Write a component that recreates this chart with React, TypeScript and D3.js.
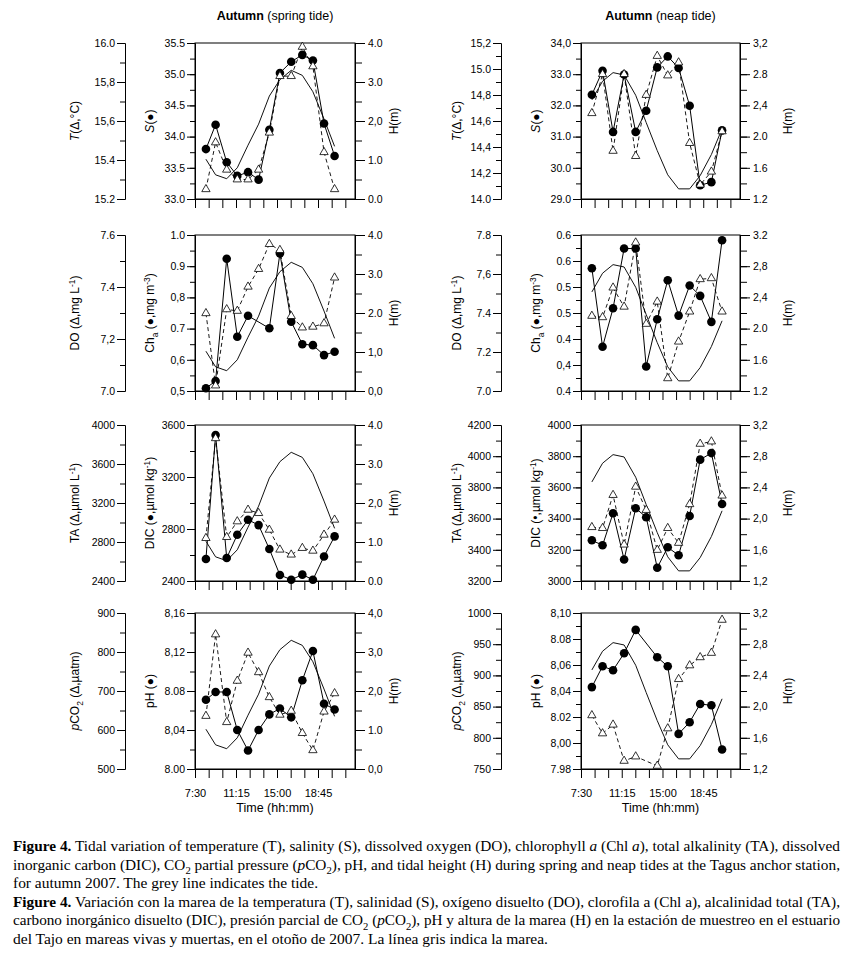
import React, { useEffect, useRef } from "react";
import * as d3 from "d3";

type Val = number | null;
type Part = [string, string?];

// sampling times, minutes after midnight
const springTimes = [510, 563, 624, 682, 741, 799, 858, 916, 978, 1039, 1097, 1158, 1216];
const neapTimes = [510, 569, 627, 688, 752, 810, 871, 929, 989, 1050, 1108, 1170, 1229];

// tidal height H (m)
const springTide = [1.02, 0.62, 0.52, 0.8, 1.38, 1.92, 2.64, 3.06, 3.3, 3.17, 2.75, 2.05, 1.35];
const neapTide = [2.47, 2.71, 2.82, 2.79, 2.53, 2.18, 1.82, 1.51, 1.33, 1.33, 1.5, 1.77, 2.1];

// spring tide series
const springS = [33.8, 34.19, 33.59, 33.37, 33.43, 33.31, 34.11, 35.02, 35.2, 35.31, 35.22, 34.21, 33.69];
const springT = [15.25, 15.49, 15.35, 15.3, 15.3, 15.35, 15.54, 15.83, 15.83, 15.98, 15.88, 15.44, 15.25];
const springChl: Val[] = [0.509, 0.532, 0.924, 0.674, 0.741, null, 0.701, 0.941, 0.722, 0.65, 0.647, 0.615, 0.626];
const springDO = [7.299, 7.021, 7.314, 7.308, 7.401, 7.469, 7.565, 7.542, 7.288, 7.244, 7.247, 7.26, 7.436];
const springDIC = [2569, 3523, 2577, 2756, 2871, 2830, 2646, 2446, 2410, 2449, 2410, 2589, 2743];
const springTA = [2840, 3864, 2850, 3011, 3130, 3096, 2925, 2721, 2670, 2738, 2710, 2874, 3028];
const springPH = [8.071, 8.079, 8.079, 8.04, 8.019, 8.04, 8.056, 8.062, 8.053, 8.091, 8.121, 8.067, 8.061];
const springPCO2 = [636, 845, 620, 726, 798, 748, 684, 639, 649, 592, 548, 647, 694];

// neap tide series
const neapS = [32.34, 33.11, 31.15, 32.99, 31.15, 31.83, 33.22, 33.57, 33.2, 31.99, 29.44, 29.54, 31.2];
const neapT = [14.66, 14.96, 14.37, 14.96, 14.33, 14.8, 15.1, 14.95, 15.05, 14.43, 14.11, 14.21, 14.52];
const neapChl = [0.636, 0.485, 0.559, 0.674, 0.674, 0.447, 0.538, 0.613, 0.545, 0.603, 0.583, 0.533, 0.69];
const neapDO = [7.385, 7.378, 7.53, 7.432, 7.761, 7.344, 7.458, 7.065, 7.253, 7.407, 7.573, 7.578, 7.407];
const neapDIC = [3261, 3229, 3434, 3138, 3466, 3409, 3085, 3216, 3165, 3417, 3778, 3820, 3494];
const neapTA = [3545, 3539, 3751, 3433, 3804, 3655, 3399, 3539, 3444, 3692, 4079, 4094, 3747];
const neapPH: Val[] = [8.043, 8.059, 8.056, 8.069, 8.087, null, 8.066, 8.059, 8.007, 8.016, 8.03, 8.029, 7.995];
const neapPCO2: Val[] = [836, 807, 821, 763, 770, null, 755, 815, 894, 916, 929, 936, 989];

// tick labels, bottom to top (as printed)
const springTLabels = ["15.2", "15.4", "15,6", "15,8", "16.0"];
const springSLabels = ["33.0", "33.5", "34.0", "34.5", "35.0", "35.5"];
const springH1Labels = ["0.0", "1.0", "2,0", "3.0", "4.0"];
const springDOLabels = ["7.0", "7,2", "7.4", "7.6"];
const springChlLabels = ["0,5", "0,6", "0.7", "0,8", "0.9", "1.0"];
const springH2Labels = ["0,0", "1,0", "2.0", "3.0", "4.0"];
const springTALabels = ["2400", "2800", "3200", "3600", "4000"];
const springDICLabels = ["2400", "2800", "3200", "3600"];
const springH3Labels = ["0.0", "1.0", "2,0", "3.0", "4.0"];
const springPCO2Labels = ["500", "600", "700", "800", "900"];
const springPHLabels = ["8.00", "8,04", "8.08", "8,12", "8,16"];
const springH4Labels = ["0,0", "1.0", "2,0", "3,0", "4,0"];

const neapTLabels = ["14.0", "14,2", "14,4", "14,6", "14,8", "15.0", "15,2"];
const neapSLabels = ["29.0", "30.0", "31.0", "32.0", "33.0", "34,0"];
const neapH1Labels = ["1.2", "1.6", "2.0", "2,4", "2.8", "3,2"];
const neapDOLabels = ["7.0", "7.2", "7.4", "7,6", "7.8"];
const neapChlLabels = ["0.4", "0,4", "0.4", "0.5", "0.5", "0.6", "0.6"];
const neapH2Labels = ["1.2", "1.6", "2.0", "2,4", "2,8", "3.2"];
const neapTALabels = ["3200", "3400", "3600", "3800", "4000", "4200"];
const neapDICLabels = ["3000", "3200", "3400", "3600", "3800", "4000"];
const neapH3Labels = ["1,2", "1,6", "2,0", "2,4", "2,8", "3,2"];
const neapPCO2Labels = ["750", "800", "850", "900", "950", "1000"];
const neapPHLabels = ["7.98", "8,00", "8.02", "8,04", "8,06", "8.08", "8,10"];
const neapH4Labels = ["1,2", "1,6", "2,0", "2,4", "2,8", "3,2"];

const timeLabelsAt = [450, 675, 900, 1125];

const captionLines: { parts: Part[]; width: number }[] = [
  {
    width: 827,
    parts: [["Figure 4.", "b"], [" Tidal variation of temperature (T), salinity (S), dissolved oxygen (DO), chlorophyll "], ["a", "i"], [" (Chl "], ["a", "i"], ["), total alkalinity (TA), dissolved"]],
  },
  {
    width: 827,
    parts: [["inorganic carbon (DIC), CO"], ["2", "sub"], [" partial pressure ("], ["p", "i"], ["CO"], ["2", "sub"], ["), pH, and tidal height (H) during spring and neap tides at the Tagus anchor station,"]],
  },
  { width: 305, parts: [["for autumn 2007. The grey line indicates the tide."]] },
  {
    width: 827,
    parts: [["Figure 4.", "b"], [" Variación con la marea de la temperatura (T), salinidad (S), oxígeno disuelto (DO), clorofila a (Chl a), alcalinidad total (TA),"]],
  },
  {
    width: 827,
    parts: [["carbono inorgánico disuelto (DIC), presión parcial de CO"], ["2", "sub"], [" ("], ["p", "i"], ["CO"], ["2", "sub"], ["), pH y altura de la marea (H) en la estación de muestreo en el estuario"]],
  },
  { width: 535, parts: [["del Tajo en mareas vivas y muertas, en el otoño de 2007. La línea gris indica la marea."]] },
];

interface AxisSpec {
  domain: [number, number];
  minor: number;
  labels: string[];
}

interface PanelSpec {
  outer: AxisSpec;
  inner: AxisSpec;
  tide: AxisSpec;
  triangles: Val[];
  circles: Val[];
  outerLabel: Part[];
  innerLabel: Part[];
}

const SANS = "'Liberation Sans', Arial, Helvetica, sans-serif";
const SERIF = "'Liberation Serif', 'Times New Roman', serif";

const springPanels: PanelSpec[] = [
  {
    outer: { domain: [15.2, 16.0], minor: 0.1, labels: springTLabels },
    inner: { domain: [33.0, 35.5], minor: 0.25, labels: springSLabels },
    tide: { domain: [0, 4], minor: 0.5, labels: springH1Labels },
    triangles: springT,
    circles: springS,
    outerLabel: [["T", "i"], ["(Δ,°C)"]],
    innerLabel: [["S", "i"], ["(●)"]],
  },
  {
    outer: { domain: [7.0, 7.6], minor: 0.1, labels: springDOLabels },
    inner: { domain: [0.5, 1.0], minor: 0.05, labels: springChlLabels },
    tide: { domain: [0, 4], minor: 0.5, labels: springH2Labels },
    triangles: springDO,
    circles: springChl,
    outerLabel: [["DO (Δ,mg L"], ["-1", "sup"], [")"]],
    innerLabel: [["Ch"], ["a", "sub"], [" (●,mg m"], ["-3", "sup"], [")"]],
  },
  {
    outer: { domain: [2400, 4000], minor: 200, labels: springTALabels },
    inner: { domain: [2400, 3600], minor: 200, labels: springDICLabels },
    tide: { domain: [0, 4], minor: 0.5, labels: springH3Labels },
    triangles: springTA,
    circles: springDIC,
    outerLabel: [["TA (Δ,µmol L"], ["-1", "sup"], [")"]],
    innerLabel: [["DIC (●,µmol kg"], ["-1", "sup"], [")"]],
  },
  {
    outer: { domain: [500, 900], minor: 50, labels: springPCO2Labels },
    inner: { domain: [8.0, 8.16], minor: 0.02, labels: springPHLabels },
    tide: { domain: [0, 4], minor: 0.5, labels: springH4Labels },
    triangles: springPCO2,
    circles: springPH,
    outerLabel: [["p", "i"], ["CO"], ["2", "sub"], [" (Δ,µatm)"]],
    innerLabel: [["pH (●)"]],
  },
];

const neapPanels: PanelSpec[] = [
  {
    outer: { domain: [14.0, 15.2], minor: 0.1, labels: neapTLabels },
    inner: { domain: [29.0, 34.0], minor: 0.5, labels: neapSLabels },
    tide: { domain: [1.2, 3.2], minor: 0.2, labels: neapH1Labels },
    triangles: neapT,
    circles: neapS,
    outerLabel: [["T", "i"], ["(Δ,°C)"]],
    innerLabel: [["S", "i"], ["(●)"]],
  },
  {
    outer: { domain: [7.0, 7.8], minor: 0.1, labels: neapDOLabels },
    inner: { domain: [0.4, 0.7], minor: 0.025, labels: neapChlLabels },
    tide: { domain: [1.2, 3.2], minor: 0.2, labels: neapH2Labels },
    triangles: neapDO,
    circles: neapChl,
    outerLabel: [["DO (Δ,mg L"], ["-1", "sup"], [")"]],
    innerLabel: [["Ch"], ["a", "sub"], [" (●,mg m"], ["-3", "sup"], [")"]],
  },
  {
    outer: { domain: [3200, 4200], minor: 100, labels: neapTALabels },
    inner: { domain: [3000, 4000], minor: 100, labels: neapDICLabels },
    tide: { domain: [1.2, 3.2], minor: 0.2, labels: neapH3Labels },
    triangles: neapTA,
    circles: neapDIC,
    outerLabel: [["TA (Δ,µmol L"], ["-1", "sup"], [")"]],
    innerLabel: [["DIC (•,µmol kg"], ["-1", "sup"], [")"]],
  },
  {
    outer: { domain: [750, 1000], minor: 25, labels: neapPCO2Labels },
    inner: { domain: [7.98, 8.1], minor: 0.01, labels: neapPHLabels },
    tide: { domain: [1.2, 3.2], minor: 0.2, labels: neapH4Labels },
    triangles: neapPCO2,
    circles: neapPH,
    outerLabel: [["p", "i"], ["CO"], ["2", "sub"], [" (Δ,µatm)"]],
    innerLabel: [["pH (●)"]],
  },
];

const fmtTime = (m: number) => `${Math.floor(m / 60)}:${String(m % 60).padStart(2, "0")}`;

function rich(text: any, parts: Part[], size: number) {
  let shift = 0;
  parts.forEach(([s, st]) => {
    const ts = text.append("tspan").text(s);
    let target = 0;
    if (st === "sub") target = size * 0.3;
    if (st === "sup") target = -size * 0.38;
    if (target !== shift) {
      ts.attr("dy", target - shift);
      shift = target;
    }
    if (st === "sub" || st === "sup") ts.attr("font-size", size * 0.7);
    if (st === "i") ts.attr("font-style", "italic");
    if (st === "b") ts.attr("font-weight", "bold");
  });
}

function majorTicks(a: AxisSpec) {
  const n = a.labels.length - 1;
  return d3.range(n + 1).map((i) => a.domain[0] + ((a.domain[1] - a.domain[0]) * i) / n);
}

function minorTicks(a: AxisSpec) {
  const n = Math.round((a.domain[1] - a.domain[0]) / a.minor);
  return d3.range(n + 1).map((i) => a.domain[0] + a.minor * i);
}

function styleAxis(g: any, size = 10.5) {
  g.attr("font-family", SANS).attr("font-size", size);
  g.selectAll("line").attr("stroke", "#000").attr("stroke-width", 1);
  g.selectAll("path").attr("stroke", "#000").attr("stroke-width", 1);
  g.selectAll("text").attr("fill", "#000");
}

const App: React.FC = () => {
  const svgRef = useRef<SVGSVGElement>(null);

  useEffect(() => {
    if (!svgRef.current) return;
    const svg = d3.select(svgRef.current);
    svg.selectAll("*").remove();

    const rowTops = [43, 235, 425, 613];
    const panelH = 156;
    const columns = [
      { outerX: 125, x0: 195, x1: 355, outerLab: 75, innerLab: 150, hLab: 394, panels: springPanels, times: springTimes, tide: springTide, title: "(spring tide)" },
      { outerX: 501, x0: 581, x1: 740, outerLab: 457, innerLab: 536, hLab: 788, panels: neapPanels, times: neapTimes, tide: neapTide, title: "(neap tide)" },
    ];

    columns.forEach((col) => {
      const x = d3.scaleLinear().domain([450, 1328]).range([col.x0, col.x1]);
      const cx = (col.x0 + col.x1) / 2;

      // title
      const title = svg
        .append("text")
        .attr("x", cx)
        .attr("y", 20)
        .attr("text-anchor", "middle")
        .attr("font-family", SANS)
        .attr("font-size", 12.5);
      title.append("tspan").attr("font-weight", "bold").text("Autumn");
      title.append("tspan").text(" " + col.title);

      col.panels.forEach((p, r) => {
        const top = rowTops[r];
        const bot = top + panelH;
        const isLast = r === col.panels.length - 1;
        const yOuter = d3.scaleLinear().domain(p.outer.domain).range([bot, top]);
        const yInner = d3.scaleLinear().domain(p.inner.domain).range([bot, top]);
        const yTide = d3.scaleLinear().domain(p.tide.domain).range([bot, top]);

        // outer (triangle) axis
        const gOm = svg.append("g").attr("transform", `translate(${col.outerX},0)`);
        gOm.call(d3.axisLeft(yOuter).tickValues(minorTicks(p.outer)).tickSize(5).tickSizeOuter(0).tickFormat(() => ""));
        styleAxis(gOm);
        const gO = svg.append("g").attr("transform", `translate(${col.outerX},0)`);
        gO.call(
          d3.axisLeft(yOuter).tickValues(majorTicks(p.outer)).tickSize(8).tickSizeOuter(0).tickPadding(2)
            .tickFormat((_d, i) => p.outer.labels[i])
        );
        styleAxis(gO);

        // inner (circle) axis
        const gIm = svg.append("g").attr("transform", `translate(${col.x0},0)`);
        gIm.call(d3.axisLeft(yInner).tickValues(minorTicks(p.inner)).tickSize(5).tickSizeOuter(0).tickFormat(() => ""));
        styleAxis(gIm);
        const gI = svg.append("g").attr("transform", `translate(${col.x0},0)`);
        gI.call(
          d3.axisLeft(yInner).tickValues(majorTicks(p.inner)).tickSize(8).tickSizeOuter(0).tickPadding(2)
            .tickFormat((_d, i) => p.inner.labels[i])
        );
        styleAxis(gI);

        // tide axis
        const gHm = svg.append("g").attr("transform", `translate(${col.x1},0)`);
        gHm.call(d3.axisRight(yTide).tickValues(minorTicks(p.tide)).tickSize(7).tickSizeOuter(0).tickFormat(() => ""));
        styleAxis(gHm);
        const gH = svg.append("g").attr("transform", `translate(${col.x1},0)`);
        gH.call(
          d3.axisRight(yTide).tickValues(majorTicks(p.tide)).tickSize(10).tickSizeOuter(0).tickPadding(3)
            .tickFormat((_d, i) => p.tide.labels[i])
        );
        styleAxis(gH);

        // time axis
        const gX = svg.append("g").attr("transform", `translate(0,${bot})`);
        gX.call(
          d3.axisBottom(x).tickValues(d3.range(450, 1300, 75)).tickSize(9).tickSizeOuter(0).tickPadding(11)
            .tickFormat((d) => (isLast && timeLabelsAt.includes(d as number) ? fmtTime(d as number) : ""))
        );
        styleAxis(gX, 11);

        // box
        svg
          .append("rect")
          .attr("x", col.x0)
          .attr("y", top)
          .attr("width", col.x1 - col.x0)
          .attr("height", panelH)
          .attr("fill", "none")
          .attr("stroke", "#000")
          .attr("stroke-width", 1);

        // tide line
        svg
          .append("path")
          .datum(col.tide.map((h, i) => [col.times[i], h] as [number, number]))
          .attr("fill", "none")
          .attr("stroke", "#111")
          .attr("stroke-width", 1)
          .attr("d", d3.line<[number, number]>().x((d) => x(d[0])).y((d) => yTide(d[1])));

        const tri = p.triangles
          .map((v, i) => [col.times[i], v] as [number, Val])
          .filter((d) => d[1] !== null) as [number, number][];
        const circ = p.circles
          .map((v, i) => [col.times[i], v] as [number, Val])
          .filter((d) => d[1] !== null) as [number, number][];

        svg
          .append("path")
          .datum(tri)
          .attr("fill", "none")
          .attr("stroke", "#000")
          .attr("stroke-width", 0.9)
          .attr("stroke-dasharray", "4,3")
          .attr("d", d3.line<[number, number]>().x((d) => x(d[0])).y((d) => yOuter(d[1])));

        svg
          .append("path")
          .datum(circ)
          .attr("fill", "none")
          .attr("stroke", "#000")
          .attr("stroke-width", 1)
          .attr("d", d3.line<[number, number]>().x((d) => x(d[0])).y((d) => yInner(d[1])));

        svg
          .append("g")
          .selectAll("circle")
          .data(circ)
          .enter()
          .append("circle")
          .attr("cx", (d) => x(d[0]))
          .attr("cy", (d) => yInner(d[1]))
          .attr("r", 4.3)
          .attr("fill", "#000");

        const triSym = d3.symbol().type(d3.symbolTriangle).size(30);
        svg
          .append("g")
          .selectAll("path")
          .data(tri)
          .enter()
          .append("path")
          .attr("transform", (d) => `translate(${x(d[0])},${yOuter(d[1])})`)
          .attr("d", triSym() as string)
          .attr("fill", "#fff")
          .attr("stroke", "#000")
          .attr("stroke-width", 0.8);

        // rotated axis titles
        const mid = (top + bot) / 2;
        const labelSize = 12;
        const addLabel = (cxLab: number, parts: Part[]) => {
          const bx = cxLab + labelSize * 0.35;
          const t = svg
            .append("text")
            .attr("x", bx)
            .attr("y", mid)
            .attr("transform", `rotate(-90,${bx},${mid})`)
            .attr("text-anchor", "middle")
            .attr("font-family", SANS)
            .attr("font-size", labelSize);
          rich(t, parts, labelSize);
        };
        addLabel(col.outerLab, p.outerLabel);
        addLabel(col.innerLab, p.innerLabel);
        addLabel(col.hLab, [["H(m)"]]);

        if (isLast) {
          svg
            .append("text")
            .attr("x", cx)
            .attr("y", 812)
            .attr("text-anchor", "middle")
            .attr("font-family", SANS)
            .attr("font-size", 12.5)
            .text("Time (hh:mm)");
        }
      });
    });

    // caption
    const capSize = 14;
    captionLines.forEach((line, i) => {
      const t = svg
        .append("text")
        .attr("x", 13)
        .attr("y", 851 + i * 18.6)
        .attr("font-family", SERIF)
        .attr("font-size", capSize)
        .attr("fill", "#000")
        .attr("textLength", line.width)
        .attr("lengthAdjust", "spacingAndGlyphs");
      rich(t, line.parts, capSize);
    });
  }, []);

  return (
    <svg
      ref={svgRef}
      width={849}
      height={959}
      style={{ position: "absolute", left: 0, top: 0, background: "#fff" }}
    />
  );
};

export default App;
